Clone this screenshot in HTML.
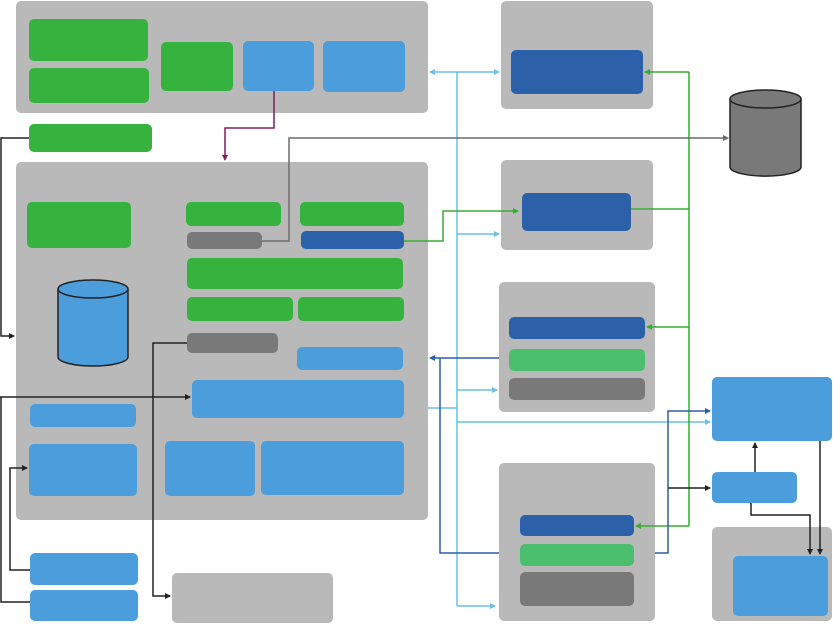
<!DOCTYPE html>
<html><head><meta charset="utf-8"><style>
html,body{margin:0;padding:0;background:#fff;width:833px;height:624px;overflow:hidden;position:relative;font-family:"Liberation Sans",sans-serif}
.b{position:absolute;border-radius:5px}
.p{background:#b9b9b9}
.g{background:#36b33f}
.l{background:#4c9ddb}
.d{background:#2c61aa}
.lg{background:#4cbf6f}
.k{background:#7a797a}
svg{position:absolute;left:0;top:0}
</style></head><body>
<div class="b p" style="left:16px;top:1px;width:412px;height:112px"></div>
<div class="b p" style="left:16px;top:162px;width:412px;height:358px"></div>
<div class="b p" style="left:501px;top:1px;width:152px;height:108px"></div>
<div class="b p" style="left:501px;top:160px;width:152px;height:90px"></div>
<div class="b p" style="left:499px;top:282px;width:156px;height:130px"></div>
<div class="b p" style="left:499px;top:463px;width:156px;height:158px"></div>
<div class="b p" style="left:712px;top:527px;width:120px;height:94px"></div>
<div class="b p" style="left:172px;top:573px;width:161px;height:50px"></div>

<div class="b g" style="left:29px;top:19px;width:119px;height:42px"></div>
<div class="b g" style="left:29px;top:68px;width:120px;height:35px"></div>
<div class="b g" style="left:161px;top:42px;width:72px;height:49px"></div>
<div class="b g" style="left:29px;top:124px;width:123px;height:28px"></div>
<div class="b g" style="left:27px;top:202px;width:104px;height:46px"></div>
<div class="b g" style="left:186px;top:202px;width:95px;height:24px"></div>
<div class="b g" style="left:300px;top:202px;width:104px;height:24px"></div>
<div class="b g" style="left:187px;top:258px;width:216px;height:31px"></div>
<div class="b g" style="left:187px;top:297px;width:106px;height:24px"></div>
<div class="b g" style="left:298px;top:297px;width:106px;height:24px"></div>

<div class="b l" style="left:243px;top:41px;width:71px;height:50px"></div>
<div class="b l" style="left:323px;top:41px;width:82px;height:51px"></div>
<div class="b l" style="left:297px;top:347px;width:106px;height:23px"></div>
<div class="b l" style="left:192px;top:380px;width:212px;height:38px"></div>
<div class="b l" style="left:30px;top:404px;width:106px;height:23px"></div>
<div class="b l" style="left:29px;top:444px;width:108px;height:52px"></div>
<div class="b l" style="left:165px;top:441px;width:90px;height:55px"></div>
<div class="b l" style="left:261px;top:441px;width:143px;height:54px"></div>
<div class="b l" style="left:712px;top:377px;width:120px;height:64px"></div>
<div class="b l" style="left:712px;top:472px;width:85px;height:31px"></div>
<div class="b l" style="left:733px;top:556px;width:95px;height:60px"></div>
<div class="b l" style="left:30px;top:553px;width:108px;height:32px"></div>
<div class="b l" style="left:30px;top:590px;width:108px;height:31px"></div>

<div class="b d" style="left:511px;top:50px;width:132px;height:44px"></div>
<div class="b d" style="left:522px;top:193px;width:109px;height:38px"></div>
<div class="b d" style="left:301px;top:231px;width:103px;height:18px"></div>
<div class="b d" style="left:509px;top:317px;width:136px;height:22px"></div>
<div class="b d" style="left:520px;top:515px;width:114px;height:21px"></div>

<div class="b lg" style="left:509px;top:349px;width:136px;height:22px"></div>
<div class="b lg" style="left:520px;top:544px;width:114px;height:22px"></div>

<div class="b k" style="left:187px;top:232px;width:75px;height:17px"></div>
<div class="b k" style="left:187px;top:333px;width:91px;height:20px"></div>
<div class="b k" style="left:509px;top:378px;width:136px;height:22px"></div>
<div class="b k" style="left:520px;top:572px;width:114px;height:34px"></div>

<svg width="833" height="624" viewBox="0 0 833 624">
<defs>
<marker id="al" markerWidth="6" markerHeight="6" refX="5" refY="3" orient="auto" markerUnits="userSpaceOnUse"><path d="M0,0L6,3L0,6z" fill="#6cc0ea"/></marker>
<marker id="ag" markerWidth="6" markerHeight="6" refX="5" refY="3" orient="auto" markerUnits="userSpaceOnUse"><path d="M0,0L6,3L0,6z" fill="#3aaa35"/></marker>
<marker id="ad" markerWidth="6" markerHeight="6" refX="5" refY="3" orient="auto" markerUnits="userSpaceOnUse"><path d="M0,0L6,3L0,6z" fill="#2c61aa"/></marker>
<marker id="ap" markerWidth="6" markerHeight="6" refX="5" refY="3" orient="auto" markerUnits="userSpaceOnUse"><path d="M0,0L6,3L0,6z" fill="#7f1f5f"/></marker>
<marker id="ak" markerWidth="6" markerHeight="6" refX="5" refY="3" orient="auto" markerUnits="userSpaceOnUse"><path d="M0,0L6,3L0,6z" fill="#6d6d6d"/></marker>
<marker id="ab" markerWidth="6" markerHeight="6" refX="5" refY="3" orient="auto" markerUnits="userSpaceOnUse"><path d="M0,0L6,3L0,6z" fill="#222"/></marker>
</defs>
<g fill="none" stroke-width="1.5">
<!-- light blue -->
<g stroke="#6cc0ea">
<path d="M457,72V606"/>
<path d="M457,72H430" marker-end="url(#al)"/>
<path d="M457,72H499" marker-end="url(#al)"/>
<path d="M457,234H499" marker-end="url(#al)"/>
<path d="M457,390H497" marker-end="url(#al)"/>
<path d="M428,408H457"/>
<path d="M457,422H710" marker-end="url(#al)"/>
<path d="M457,606H495" marker-end="url(#al)"/>
</g>
<!-- green -->
<g stroke="#3aaa35">
<path d="M689,72V526"/>
<path d="M689,72H645" marker-end="url(#ag)"/>
<path d="M631,209H689"/>
<path d="M689,327H647" marker-end="url(#ag)"/>
<path d="M689,526H636" marker-end="url(#ag)"/>
<path d="M404,241H443V211H518" marker-end="url(#ag)"/>
</g>
<!-- dark blue -->
<g stroke="#2c61aa">
<path d="M499,358H430" marker-end="url(#ad)"/>
<path d="M440,358V553H499"/>
<path d="M655,553H668V411H710" marker-end="url(#ad)"/>
</g>
<path d="M274,91V128H225V160" stroke="#7f1f5f" marker-end="url(#ap)"/>
<path d="M262,241H289V138H728" stroke="#6d6d6d" marker-end="url(#ak)"/>
<g stroke="#222">
<path d="M29,138H1V336H14" marker-end="url(#ab)"/>
<path d="M0,397H190" marker-end="url(#ab)"/>
<path d="M1,397V602H30"/>
<path d="M30,570H10V468H27" marker-end="url(#ab)"/>
<path d="M187,343H153V596H170" marker-end="url(#ab)"/>
<path d="M668,488H710" marker-end="url(#ab)"/>
<path d="M755,472V443" marker-end="url(#ab)"/>
<path d="M751,503V515H810V554" marker-end="url(#ab)"/>
<path d="M820,441V554" marker-end="url(#ab)"/>
</g>
</g>
<!-- cylinders -->
<g stroke="#222" stroke-width="1.5">
<path d="M58,289V357A35,9 0 0 0 128,357V289" fill="#4c9ddb"/>
<ellipse cx="93" cy="289" rx="35" ry="9" fill="#4c9ddb"/>
<path d="M730,99V167A35,9 0 0 0 801,167V99" fill="#7a797a"/>
<ellipse cx="765.5" cy="99" rx="35.5" ry="9" fill="#7a797a"/>
</g>
</svg>
</body></html>
